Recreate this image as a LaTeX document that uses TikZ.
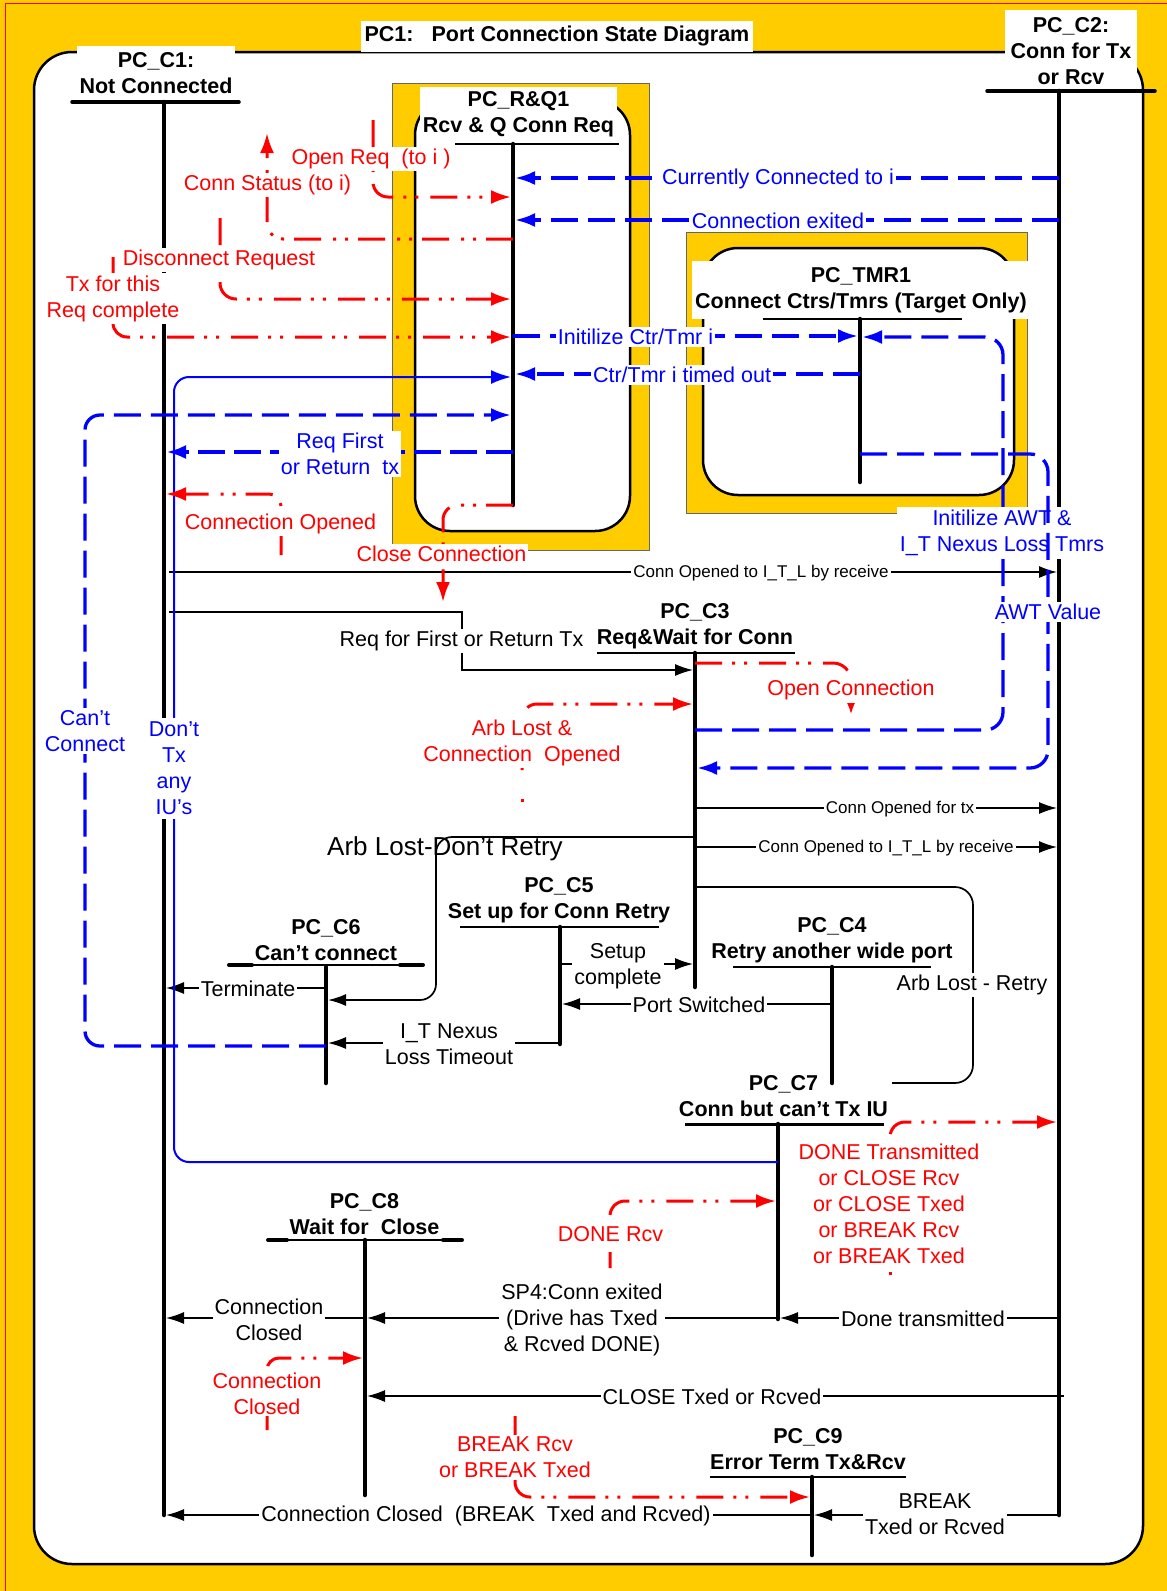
\documentclass[tikz,border=0pt]{standalone}
\usepackage{fontspec}
\setmainfont{Liberation Sans}
\usetikzlibrary{arrows.meta,calc}
\definecolor{ylw}{HTML}{FFCC00}
\newcommand{\fm}{\fontsize{21.5pt}{26pt}\selectfont}
\newcommand{\fsm}{\fontsize{17pt}{20pt}\selectfont}
\newcommand{\fbg}{\fontsize{26pt}{30pt}\selectfont}
\tikzset{
  statebar/.style={line width=4.5pt, line cap=round},
  kconn/.style={line width=1.4pt, -{Latex[length=18pt,width=12pt]}, shorten >=2pt},
  bconn/.style={blue, line width=3.3pt, dash pattern=on 27pt off 10pt, -{Latex[length=20pt,width=14pt]}, shorten >=2pt},
  rconn/.style={red, line width=3pt, dash pattern=on 27pt off 10pt on 3pt off 9pt on 3pt off 12pt, -{Latex[length=20pt,width=14pt]}, shorten >=2pt},
  rdot/.style={red, line width=3pt},
  lbl/.style={fill=white, inner sep=2pt, align=center, font=\fm},
  rlbl/.style={lbl, text=red},
  blbl/.style={lbl, text=blue},
  slbl/.style={fill=white, inner sep=2pt, font=\fsm},
  ttl/.style={align=center, font=\fm\bfseries, inner sep=1pt},
}
\begin{document}
\begin{tikzpicture}[x=1pt,y=-1pt]
\useasboundingbox (0,0) rectangle (1167,1591);
% background
\fill[ylw] (0,0) rectangle (1167,1591);
\draw[red, line width=1pt] (5,1600) -- (5,3) -- (1180,3);
\draw[line width=2.5pt, fill=white, rounded corners=38pt] (34,52) rectangle (1143,1564);
% frames
\draw[black!60, line width=1pt, fill=ylw] (392,83) rectangle (649,550);
\draw[line width=2.5pt, fill=white, rounded corners=35pt] (415,100) rectangle (630,531);
\draw[black!60, line width=1pt, fill=ylw] (686,232) rectangle (1027,513);
\draw[line width=2.5pt, fill=white, rounded corners=35pt] (703,248) rectangle (1014,495);
% titles
\node[ttl, fill=white, minimum width=392pt, minimum height=31pt] (title) at (557,36) {PC1:\hspace{18pt}Port Connection State Diagram};
\node[ttl, fill=white, minimum width=158pt, minimum height=55pt] (t1) at (156,73.5) {PC\_C1:\\Not Connected};
\node[ttl, fill=white, minimum width=132pt, minimum height=82pt] (t2) at (1071,51) {PC\_C2:\\Conn for Tx\\or Rcv};
\node[ttl, fill=white, minimum width=197pt, minimum height=54pt] (trq) at (518.5,114) {PC\_R\&Q1\\Rcv \& Q Conn Req};
\node[ttl, fill=white, minimum width=338pt, minimum height=58pt] (ttm) at (861,290) {PC\_TMR1\\Connect Ctrs/Tmrs (Target Only)};
\node[ttl] (t3) at (695,626) {PC\_C3\\Req\&Wait for Conn};
\node[ttl] (t4) at (832,940) {PC\_C4\\Retry another wide port};
\node[ttl] (t5) at (559,900.5) {PC\_C5\\Set up for Conn Retry};
\node[ttl] (t6) at (326,940) {PC\_C6\\Can’t connect};
\node[ttl] (t7) at (783.5,1096) {PC\_C7\\Conn but can’t Tx IU};
\node[ttl] (t8) at (364.5,1214) {PC\_C8\\Wait for\ \ Close};
\node[ttl] (t9) at (808,1449.5) {PC\_C9\\Error Term Tx\&Rcv};
% bar coordinates
\coordinate (C1) at (164,102);
\coordinate (C2) at (1059,91);
\coordinate (RQ) at (513,144);
\coordinate (TM) at (860,319);
\coordinate (C3) at (695,653);
\coordinate (C4) at (832,967);
\coordinate (C5) at (560,927);
\coordinate (C6) at (326,967);
\coordinate (C7) at (778,1124);
\coordinate (C8) at (365,1240);
\coordinate (C9) at (812,1477);
% bars
\draw[statebar] (C1) -- (C1 |- 0,1515);
\draw[statebar] (C2) -- (C2 |- 0,1515);
\draw[statebar] (RQ) -- (RQ |- 0,505);
\draw[statebar] (TM) -- (TM |- 0,482);
\draw[statebar] (C3) -- (C3 |- 0,987);
\draw[statebar] (C4) -- (C4 |- 0,1083);
\draw[statebar] (C5) -- (C5 |- 0,1044);
\draw[statebar] (C6) -- (C6 |- 0,1083);
\draw[statebar] (C7) -- (C7 |- 0,1319);
\draw[statebar] (C8) -- (C8 |- 0,1495);
\draw[statebar] (C9) -- (C9 |- 0,1555);
% underlines
\draw[line width=3.5pt, line cap=round] (72,102) -- (239,102);
\draw[line width=3.5pt, line cap=round] (987,91) -- (1155,91);
\draw[line width=2pt] (455,144) -- (619,144);
\draw[line width=1.2pt] (763,319) -- (962,319);
\draw[line width=2pt] (597,653) -- (795,653);
\draw[line width=1.2pt] (733,967) -- (931,967);
\draw[line width=2.5pt] (460,927) -- (659,927);
\draw[line width=4pt, line cap=round] (229,965) -- (252,965);
\draw[line width=1.2pt] (252,965) -- (400,965);
\draw[line width=4pt, line cap=round] (400,965) -- (423,965);
\draw[line width=3pt] (685,1124) -- (884,1124);
\draw[line width=4pt, line cap=round] (268,1240) -- (287,1240);
\draw[line width=2.5pt] (287,1240) -- (443,1240);
\draw[line width=4pt, line cap=round] (443,1240) -- (462,1240);
\draw[line width=1.2pt] (710,1477) -- (906,1477);
% free-end coordinates
\coordinate (sOR) at (373,120);
\coordinate (eCS) at (267,131);
\coordinate (sDR) at (220,218);
\coordinate (sTX) at (113,257);
\coordinate (sCO) at (281,555);
\coordinate (eCC) at (443,604);
\coordinate (eOC) at (851,717);
\coordinate (sAL) at (522,770);
\coordinate (dAL) at (522,802);
\coordinate (sDT) at (890,1262);
\coordinate (dDT) at (890,1275);
\coordinate (sDR2) at (610,1268);
\coordinate (sCC) at (267,1430);
\coordinate (sBR) at (515,1416);
% black connectors
\draw[kconn, shorten <=5pt] (C1 |- 0,572) -- (C2 |- 0,572);
\draw[kconn, shorten <=5pt] (C1 |- 0,612) -- (462,612) -- (462,670) -- (C3 |- 0,670);
\draw[kconn, line width=1.7pt, rounded corners=16pt] (C3 |- 0,837) -- (436,837) -- (436,1000) -- (C6 |- 0,1000);
\draw[kconn] (C3 |- 0,808) -- (C2 |- 0,808);
\draw[kconn] (C3 |- 0,847) -- (C2 |- 0,847);
\draw[line width=1.7pt, rounded corners=18pt] (C3 |- 0,887) -- (973,887) -- (973,1083) -- (892,1083);
\draw[kconn] (C5 |- 0,964) -- (C3 |- 0,964);
\draw[kconn] (C4 |- 0,1004) -- (C5 |- 0,1004);
\draw[kconn] (C6 |- 0,988) -- (C1 |- 0,988);
\draw[kconn] (C5 |- 0,1043) -- (C6 |- 0,1043);
\draw[kconn] (C2 |- 0,1318) -- (C7 |- 0,1318);
\draw[kconn] (C7 |- 0,1318) -- (C8 |- 0,1318);
\draw[kconn] (C8 |- 0,1318) -- (C1 |- 0,1318);
\draw[kconn, shorten <=-5pt] (C2 |- 0,1396) -- (C8 |- 0,1396);
\draw[kconn] (C9 |- 0,1515) -- (C1 |- 0,1515);
\draw[kconn] (C2 |- 0,1515) -- (C9 |- 0,1515);
% blue connectors
\draw[blue, line width=2pt, rounded corners=15pt, -{Latex[length=20pt,width=14pt]}, shorten >=2pt] (C7 |- 0,1162) -- (174,1162) -- (174,377) -- (RQ |- 0,377);
\draw[bconn, rounded corners=15pt] (C6 |- 0,1046) -- (85,1046) -- (85,415) -- (RQ |- 0,415);
\draw[bconn, line width=4.3pt, dash pattern=on 27pt off 9pt] (RQ |- 0,452) -- (C1 |- 0,452);
\draw[bconn] (C2 |- 0,178) -- (RQ |- 0,178);
\draw[bconn] (C2 |- 0,220) -- (RQ |- 0,220);
\draw[bconn] (RQ |- 0,336) -- (TM |- 0,336);
\draw[bconn] (TM |- 0,374) -- (RQ |- 0,374);
\draw[bconn, rounded corners=18pt] (C3 |- 0,730) -- (1003,730) -- (1003,337) -- (TM |- 0,337);
% red connectors
\draw[rconn, rounded corners=15pt] (sOR) -- (373,197) -- (RQ |- 0,197);
\draw[rconn, rounded corners=16pt] (RQ |- 0,239) -- (267,239) -- (eCS);
\draw[rconn, rounded corners=16pt] (sDR) -- (220,299) -- (RQ |- 0,299);
\draw[rconn, rounded corners=14pt] (sTX) -- (113,337) -- (RQ |- 0,337);
\draw[rconn, rounded corners=12pt] (sCO) -- (281,494) -- (C1 |- 0,494);
\draw[rconn, rounded corners=15pt] (RQ |- 0,505) -- (443,505) -- (eCC);
\draw[rconn, rounded corners=18pt, -{Latex[length=12pt,width=8pt]}] (C3 |- 0,663) -- (851,663) -- (eOC);
\draw[rconn, rounded corners=15pt] (sAL) -- (522,704) -- (C3 |- 0,704);
\draw[rdot] (dAL) -- ++(0,-3);
\draw[rconn, rounded corners=15pt] (sDT) -- (890,1122) -- (C2 |- 0,1122);
\draw[rdot] (dDT) -- ++(0,-3);
\draw[rconn, rounded corners=15pt, dash phase=11pt] (sDR2) -- (610,1201) -- (C7 |- 0,1201);
\draw[rconn, rounded corners=12pt] (sCC) -- (267,1358) -- (C8 |- 0,1358);
\draw[rconn, rounded corners=15pt] (sBR) -- (515,1497) -- (C9 |- 0,1497);
% red labels
\node[rlbl] (lOpenReq) at (371,159) {Open Req\ \ (to i\ )};
\node[rlbl] (lConnStat) at (267.5,185) {Conn Status (to i)};
\node[rlbl] (lDisc) at (219,260) {Disconnect Request};
\node[rlbl] (lTxc) at (113,298.5) {Tx for this\\Req complete};
\node[rlbl] (lCO) at (280.5,524) {Connection Opened};
\node[rlbl] (lCC) at (441.5,554) {Close Connection};
\node[rlbl] (lOC) at (851,690) {Open Connection};
\node[rlbl] (lAL) at (522,742.5) {Arb Lost \&\\Connection\ \ Opened};
\node[rlbl] (lDT) at (889,1204) {DONE Transmitted\\or CLOSE Rcv\\or CLOSE Txed\\or BREAK Rcv\\or BREAK Txed};
\node[rlbl] (lDR) at (610.5,1234) {DONE Rcv};
\node[rlbl] (lCCr) at (267,1393.5) {Connection\\Closed};
\node[rlbl] (lBR) at (515,1457) {BREAK Rcv\\or BREAK Txed};
% blue labels
\node[blbl] (lCur) at (778,179) {Currently Connected to i};
\node[blbl] (lExit) at (778,221) {Connection exited};
\node[blbl] (lInit) at (635.5,337) {Initilize Ctr/Tmr i};
\node[blbl] (lTO) at (682,375) {Ctr/Tmr i timed out};
\node[blbl] (lRF) at (340,454) {Req First\\or Return\ \ tx};
\node[blbl] (lCant) at (85,731) {Can’t\\Connect};
\node[blbl, inner sep=4pt] (lDont) at (174,768) {Don’t\\Tx\\any\\IU’s};
\node[blbl, inner sep=3pt] (lAWT) at (1002,533) {Initilize AWT \&\\I\_T Nexus Loss Tmrs};
\draw[bconn, rounded corners=18pt] (TM |- 0,454) -- (1048,454) -- (1048,768) -- (C3 |- 0,768);
\node[blbl] (lAWTv) at (1048,612) {AWT Value};
% black labels
\node[lbl] (lRFT) at (461.5,641) {Req for First or Return Tx};
\node[font=\fbg, inner sep=0pt] (lALD) at (445,849) {Arb Lost-Don’t Retry};
\node[lbl] (lSetup) at (618,966) {Setup\\complete};
\node[lbl] (lPS) at (699,1005) {Port Switched};
\node[lbl] (lTerm) at (248,989) {Terminate};
\node[lbl] (lITN) at (449,1044) {I\_T Nexus\\Loss Timeout};
\node[lbl] (lALR) at (972,985) {Arb Lost - Retry};
\node[lbl] (lCCk) at (269,1320) {Connection\\Closed};
\node[lbl] (lSP4) at (582,1320) {SP4:Conn exited\\(Drive has Txed\\\& Rcved DONE)};
\node[lbl] (lDTk) at (923,1319) {Done transmitted};
\node[lbl] (lCTR) at (712,1397) {CLOSE Txed or Rcved};
\node[lbl] (lCCB) at (486,1516) {Connection Closed\ \ (BREAK\ \ Txed and Rcved)};
\node[lbl] (lBTR) at (935,1514.5) {BREAK\\Txed or Rcved};
% small labels
\node[slbl] (lCO1) at (761,573) {Conn Opened to I\_T\_L by receive};
\node[slbl] (lCO2) at (900,809) {Conn Opened for tx};
\node[slbl] (lCO3) at (886,848) {Conn Opened to I\_T\_L by receive};
\end{tikzpicture}
\end{document}
